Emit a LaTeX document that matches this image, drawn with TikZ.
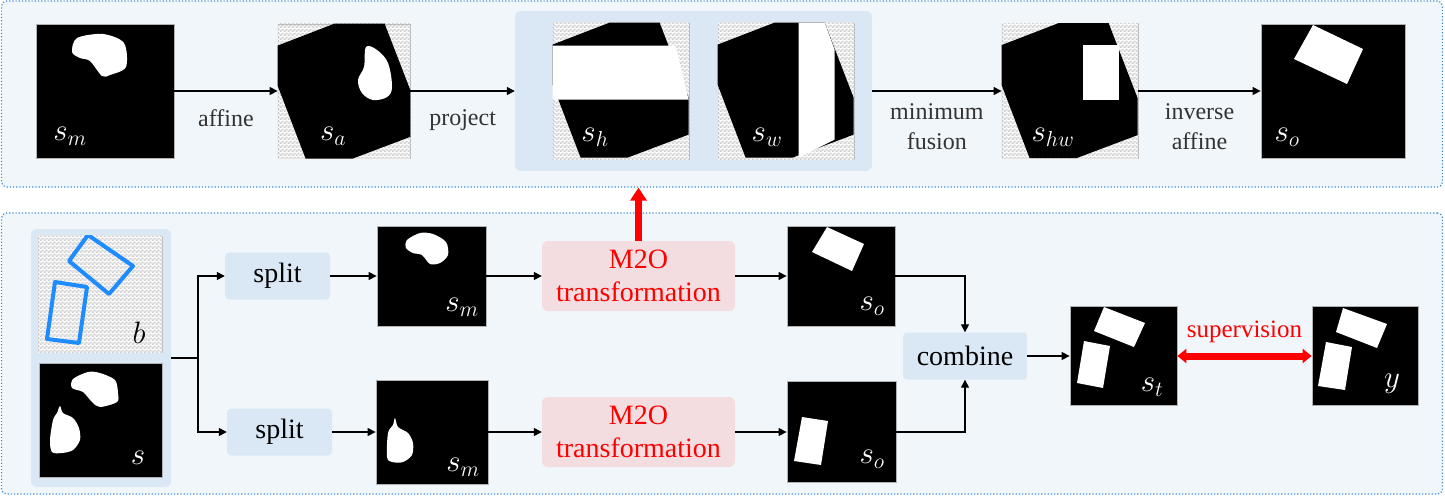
\RequirePackage{fix-cm}
\documentclass[tikz,border=0pt]{standalone}
\usepackage{fontspec}
\setmainfont{Liberation Serif}
\newfontfamily\tnr{Liberation Serif}
\usetikzlibrary{arrows.meta,positioning,patterns.meta}
\definecolor{PBlue}{HTML}{3A8DDA}
\definecolor{PFill}{HTML}{F1F6FB}
\definecolor{GFill}{HTML}{DAE8F5}
\definecolor{MFill}{HTML}{F3DDE0}
\definecolor{BoxBlue}{HTML}{1E8BFF}

\tikzdeclarepattern{
  name=chk, type=colored,
  bottom left={(0pt,0pt)}, top right={(4pt,4pt)}, tile size={(4pt,4pt)},
  code={
    \fill[gray!8] (0pt,0pt) rectangle (4pt,4pt);
    \fill[gray!38] (0pt,0pt) rectangle (2pt,2pt);
    \fill[gray!38] (2pt,2pt) rectangle (4pt,4pt);
  }
}

% gray corners + tilted black square inside an image node
\newcommand\rotsq[1]{%
  \begin{scope}
    \clip (#1.north west) rectangle (#1.south east);
    \fill[pattern=chk] (#1.north west) rectangle (#1.south east);
    \fill[shift={(#1.north west)}] (0,22) -- (57,0) -- (107,0) -- (136,75)
      -- (136,112) -- (75,135) -- (28,135) -- (0,62) -- cycle;
  \end{scope}}

\begin{document}
\begin{tikzpicture}[x=1pt,y=-1pt,
  panel/.style={draw=PBlue,dotted,line width=1.2pt,fill=PFill,rounded corners=5pt,inner sep=0},
  grp/.style={fill=GFill,rounded corners=6pt,inner sep=0},
  img/.style={draw=gray!60,fill=black,inner sep=0,line width=0.8pt},
  op/.style={fill=GFill,rounded corners=4pt,minimum width=105pt,minimum height=47pt,
    font=\tnr\fontsize{28}{30}\selectfont},
  m2o/.style={fill=MFill,rounded corners=6pt,minimum width=193pt,minimum height=70pt,
    align=center,text=red,font=\tnr\fontsize{28}{33}\selectfont},
  lbl/.style={font=\tnr\fontsize{24}{30}\selectfont,align=center,text=black!80},
  v/.style={text=white,font=\fontsize{31}{31}\selectfont,inner sep=0},
  a/.style={-{Triangle[length=8pt,width=8pt]},line width=1.3pt},
  big/.style={red,line width=7pt,-{Triangle[length=13pt,width=16pt]}},
  sup/.style={red,line width=7pt,{Triangle[length=9pt,width=14pt]}-{Triangle[length=9pt,width=14pt]}}
]
  \useasboundingbox (0,0) rectangle (1445,496);
  \node[panel,minimum width=1441pt,minimum height=186pt] (top) at (722,94) {};
  \node[panel,minimum width=1441pt,minimum height=281pt] (bot) at (722,353.5) {};

  % top row: M2O transformation
  \node[grp,minimum width=357pt,minimum height=160pt] (proj) at (693.5,91) {};
  \node[img,minimum width=138pt,minimum height=134pt] (sm1) at (105,91) {};
  \node[img,fill=white,minimum width=132pt,minimum height=134pt] (sa) at (344,91) {};
  \node[img,fill=white,minimum width=136pt,minimum height=136pt] (sh) at (621,91) {};
  \node[img,fill=white,minimum width=136pt,minimum height=136pt] (sw) at (786,91) {};
  \node[img,fill=white,minimum width=136pt,minimum height=135pt] (shw) at (1070,91) {};
  \node[img,minimum width=144pt,minimum height=134pt] (so1) at (1333,91) {};

  \fill[white] plot[smooth cycle,tension=0.5] coordinates {(77,38) (103,34) (124,43)
    (126,67) (110,75) (102,76) (90,61) (80,58) (72,52)};
  \rotsq{sa}
  \fill[white] plot[smooth cycle,tension=0.6] coordinates {(366,47) (377,50) (388,63)
    (392,87) (387,97) (373,100) (362,93) (358,80) (364,67)};
  \rotsq{sh}
  \fill[white,shift={(sh.north west)}] (0,23) -- (123,23) -- (136,77) -- (0,77) -- cycle;
  \rotsq{sw}
  \fill[white,shift={(sw.north west)}] (81,0) -- (107,0) -- (117,27) -- (117,117)
    -- (81,135) -- cycle;
  \rotsq{shw}
  \fill[white,shift={(shw.north west)}] (81,22) rectangle (117,77);
  \fill[white] (1313,25) -- (1363,49) -- (1347,84) -- (1294,59) -- cycle;

  \node[v] (lsm1) at (70,136) {$s_m$};
  \node[v] (lsa) at (333,136) {$s_a$};
  \node[v] (lsh) at (595,137) {$s_h$};
  \node[v] (lsw) at (767,137) {$s_w$};
  \node[v] (lshw) at (1053,137) {$s_{hw}$};
  \node[v] (lso1) at (1287,137) {$s_o$};

  \draw[a] (sm1) -- node[lbl,below=15pt] {affine} (sa);
  \draw[a] (sa) -- node[lbl,below=15pt] {project} (proj);
  \draw[a] (proj) -- node[lbl,below=9pt] {minimum\\fusion} (shw);
  \draw[a] (shw) -- node[lbl,below=9pt] {inverse\\affine} (so1);

  % bottom row: training pipeline
  \node[grp,minimum width=140pt,minimum height=258pt] (inp) at (101,358) {};
  \node[img,fill=white,minimum width=124pt,minimum height=116pt] (b) at (100,294) {};
  \node[img,minimum width=123pt,minimum height=114pt] (s) at (100.5,420) {};
  \node[op] (split1) at (277.5,276) {split};
  \node[op] (split2) at (279.5,432) {split};
  \node[img,minimum width=109pt,minimum height=100pt] (sm2) at (431.5,276) {};
  \node[img,minimum width=112pt,minimum height=104pt] (sm3) at (432,432) {};
  \node[m2o] (m2o1) at (638.5,276) {M2O\\transformation};
  \node[m2o] (m2o2) at (638.5,432) {M2O\\transformation};
  \node[img,minimum width=108pt,minimum height=100pt] (so2) at (841,276) {};
  \node[img,minimum width=109pt,minimum height=101pt] (so3) at (841.5,432) {};
  \node[op,minimum width=124pt] (comb) at (965,356) {combine};
  \node[img,minimum width=107pt,minimum height=99pt] (st) at (1123.5,356) {};
  \node[img,minimum width=106pt,minimum height=99pt] (gt) at (1365,356) {};

  \begin{scope}
    \clip (b.north west) rectangle (b.south east);
    \fill[pattern=chk] (b.north west) rectangle (b.south east);
    \draw[BoxBlue,line width=4pt,line join=round] (88,235) -- (133,266) -- (109,294)
      -- (69,261) -- cycle;
    \draw[BoxBlue,line width=4pt,line join=round] (55,282) -- (87,287) -- (79,343)
      -- (47,339) -- cycle;
  \end{scope}
  \fill[white] plot[smooth cycle,tension=0.5] coordinates {(73,379) (88,372) (100,373)
    (115,380) (118,393) (117,402) (100,407) (92,402) (83,392) (72,388)};
  \fill[white] plot[smooth cycle,tension=0.5] coordinates {(60,406) (63,413) (73,418)
    (79,428) (80,440) (73,450) (62,453) (52,452) (50,440) (53,420) (57,413)};
  \fill[white] plot[smooth cycle,tension=0.5] coordinates {(407,240) (420,233) (433,234)
    (446,242) (448,255) (440,263) (430,264) (422,255) (413,253) (406,248)};
  \fill[white] plot[smooth cycle,tension=0.5] coordinates {(395,418) (398,427) (408,433)
    (413,443) (412,455) (403,462) (392,462) (387,457) (388,433) (393,425)};
  \fill[white] (827,227) -- (864,244) -- (852,271) -- (812,252) -- cycle;
  \fill[white] (802,417) -- (828,421) -- (821,465) -- (794,461) -- cycle;
  \fill[white] (1104,307) -- (1145,323) -- (1134,347) -- (1094,331) -- cycle;
  \fill[white] (1084,341) -- (1110,346) -- (1103,388) -- (1077,383) -- cycle;
  \fill[white] (1343,308) -- (1387,324) -- (1377,348) -- (1336,332) -- cycle;
  \fill[white] (1326,342) -- (1352,347) -- (1345,390) -- (1318,386) -- cycle;

  \node[v,text=black] (lb) at (139,333) {$b$};
  \node[v] (ls) at (138,458) {$s$};
  \node[v] (lsm2) at (462,307) {$s_m$};
  \node[v] (lsm3) at (463,467) {$s_m$};
  \node[v] (lso2) at (872,306) {$s_o$};
  \node[v] (lso3) at (872,459) {$s_o$};
  \node[v] (lst) at (1152,387) {$s_t$};
  \node[v] (ly) at (1392,384) {$y$};

  \coordinate (fork) at (198,358);
  \draw[line width=1.3pt] (inp.east) -- (fork);
  \draw[a] (fork) |- (split1);
  \draw[a] (fork) |- (split2);
  \foreach \x/\y in {split1/sm2,sm2/m2o1,m2o1/so2,split2/sm3,sm3/m2o2,m2o2/so3,comb/st}
    {\draw[a] (\x) -- (\y);}
  \draw[a] (so2) -| (comb);
  \draw[a] (so3) -| (comb);
  \draw[big] (m2o1.north) -- (m2o1.north |- top.south);
  \draw[sup] (st) -- node[above=6pt,text=red,font=\tnr\fontsize{25}{25}\selectfont] {supervision} (gt);
\end{tikzpicture}
\end{document}
